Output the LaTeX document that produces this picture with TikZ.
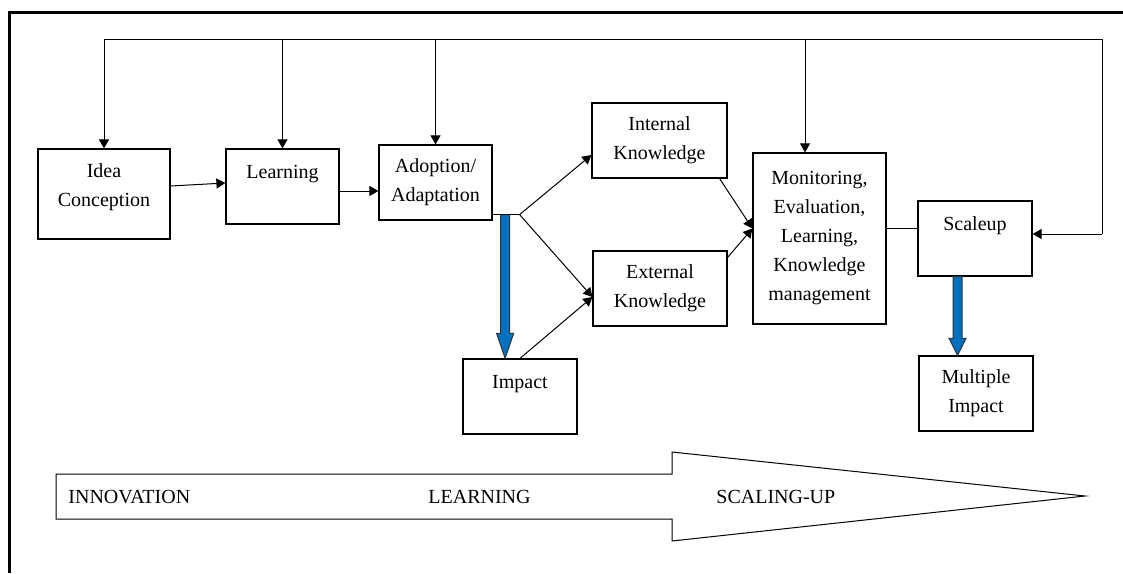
\documentclass[tikz,border=0pt]{standalone}
\usepackage{fontspec}
\setmainfont{Liberation Serif}
\usetikzlibrary{arrows.meta,calc}
\definecolor{flowblue}{RGB}{0,112,192}

% thick blue down arrow: top centre, tip, head length
\newcommand{\bluedown}[3]{%
  \draw[bluearrow] ($(#1)+(-4.5,0)$) -- ($(#2)+(-4.5,-#3)$) -- ($(#2)+(-8.5,-#3)$) -- (#2)
    -- ($(#2)+(8.5,-#3)$) -- ($(#2)+(4.5,-#3)$) -- ($(#1)+(4.5,0)$) -- cycle;}

\begin{document}
\begin{tikzpicture}[x=0.5pt,y=-0.5pt,
    box/.style={draw, line width=0.6pt, align=center, inner sep=1pt, font=\fontsize{10}{14.5}\selectfont},
    arr/.style={line width=0.5pt, -{Triangle[length=4.5pt,width=5pt]}},
    link/.style={line width=0.5pt},
    bluearrow/.style={draw=black!80, line width=0.5pt, fill=flowblue},
    phase/.style={anchor=west, inner sep=0pt, font=\fontsize{10}{12}\selectfont}]
    \useasboundingbox (0,0) rectangle (1123,573);

    % Frame
    \draw[line width=1.5pt] (9,573) -- (9,12) -- (1123,12);

    % Boxes
    \node[box, minimum width=66pt, minimum height=45pt] (idea) at (104,194) {Idea\\Conception\\[-6pt]\mbox{}};
    \node[box, minimum width=56.5pt, minimum height=37.5pt] (learn) at (282.5,186.5) {Learning\\\mbox{}};
    \node[box, minimum width=56.5pt, minimum height=37.5pt] (adopt) at (435.5,182.5) {Adoption/\\Adaptation};
    \node[box, minimum width=67.5pt, minimum height=37.5pt] (intk) at (659.5,140.5) {Internal\\Knowledge};
    \node[box, minimum width=67pt, minimum height=37.5pt] (extk) at (660,288.5) {External\\Knowledge};
    \node[box, minimum width=57pt, minimum height=37.5pt] (impact) at (520,396.5) {Impact\\\mbox{}};
    \node[box, minimum width=66.5pt, minimum height=85.5pt] (mon) at (819.5,238.5) {Monitoring,\\Evaluation,\\Learning,\\Knowledge\\management};
    \node[box, minimum width=57pt, minimum height=37.5pt] (scale) at (975,238.5) {Scaleup\\\mbox{}};
    \node[box, minimum width=57pt, minimum height=37.5pt] (multi) at (976,393.5) {Multiple\\Impact};

    % Feedback loop
    \coordinate (fbL) at (104,39);
    \coordinate (fbR) at (1102,39);
    \coordinate (fbS) at (1102,234);
    \coordinate (monTop) at ([xshift=-7.25pt]mon.north);
    \draw[link] (fbL) -- (fbR) -- (fbS);
    \draw[arr] (fbL) -- (idea);
    \draw[arr] (learn.north |- fbL) -- (learn);
    \draw[arr] (adopt.north |- fbL) -- (adopt);
    \draw[arr] (monTop |- fbL) -- (monTop);
    \draw[arr] (fbS) -- (fbS -| scale.east);

    % Flow
    \coordinate (ideaOut) at ([yshift=4pt]idea.east);
    \coordinate (learnOut) at ([yshift=-2.25pt]learn.east);
    \coordinate (adoptOut) at ([yshift=3pt]adopt.south east);
    \coordinate (fork) at ([xshift=13.5pt]adoptOut);
    \coordinate (extIn) at ([yshift=-4.25pt]extk.west);
    \coordinate (monMeet) at ([yshift=5pt]mon.west);
    \coordinate (monOut) at ([yshift=5pt]mon.east);
    \coordinate (impTop) at ([xshift=6.25pt]adoptOut);
    \coordinate (multiTop) at ([xshift=-8.75pt]scale.south);
    \draw[arr] (ideaOut) -- ([yshift=1.75pt]learn.west);
    \draw[arr] (learnOut) -- (learnOut -| adopt.west);
    \bluedown{impTop}{impTop |- impact.north}{25}
    \draw[link] (adoptOut) -- (fork);
    \draw[arr] (fork) -- ([yshift=-7.25pt]intk.west);
    \draw[arr] (fork) -- (extIn);
    \draw[arr] (impact.north) -- (extIn);
    \draw[arr] ([xshift=-4pt]intk.south east) -- (monMeet);
    \draw[arr] ([yshift=-3.5pt]extk.north east) -- (monMeet);
    \draw[link] (monOut) -- (monOut -| scale.west);
    \bluedown{multiTop}{multiTop |- multi.north}{17}

    % Phases
    \draw[link] (56,474) -- (672,474) -- (672,452) -- (1085,496) -- (672,541) -- (672,519) -- (56,519) -- cycle;
    \node[phase] (inno) at (68,497) {INNOVATION};
    \node[phase] (lrn) at (428,497) {LEARNING};
    \node[phase] (scal) at (716,497) {SCALING-UP};
\end{tikzpicture}
\end{document}
